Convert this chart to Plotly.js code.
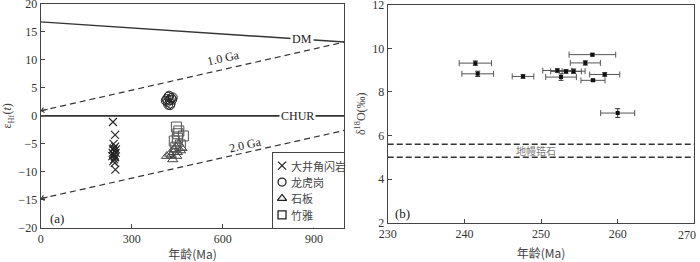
<!DOCTYPE html>
<html>
<head>
<meta charset="utf-8">
<script src="https://cdn.plot.ly/plotly-3.0.1.min.js"></script>
<style>html,body{margin:0;padding:0;background:#fff;}#chart{width:700px;height:262px;}</style>
</head>
<body>
<div id="chart"></div>
<script>
// ---------- Panel (a): εHf(t) vs age ----------
const refX = [0, 1000];
const dmY = [16.8, 13.2];
const chur = [0, 0];
const ga1Y = [0.9, 13.2];
const ga2Y = [-14.8, -2.6];

const dajingX = [238, 245, 240, 245, 238, 243, 247, 240, 236, 245, 242, 248, 239, 244, 246, 241, 243, 237];
const dajingY = [-1.1, -3.4, -5.0, -5.5, -6.0, -6.3, -6.6, -6.9, -7.2, -7.4, -7.8, -6.0, -8.1, -8.4, -9.6, -5.8, -7.0, -6.6];

const longhuX = [415, 420, 425, 430, 418, 428, 423, 433, 420, 435, 412, 426];
const longhuY = [3.0, 3.4, 2.8, 3.2, 2.5, 2.2, 3.6, 2.9, 2.0, 3.3, 2.7, 1.9];

const shibanX = [415, 425, 435, 440, 445, 450, 455, 460, 465, 430, 448, 438];
const shibanY = [-7.2, -6.8, -7.8, -6.0, -5.5, -6.5, -5.0, -6.2, -5.8, -7.0, -7.2, -6.5];

const zhuyaX = [447, 455, 470, 440, 450, 460, 445, 452];
const zhuyaY = [-2.0, -2.7, -3.6, -4.5, -4.0, -5.2, -5.6, -3.2];

const legendNames = ['大井角闪岩', '龙虎岗', '石板', '竹雅'];
const legendRows = [1, 2, 3, 4];

// ---------- Panel (b): δ18O vs age ----------
const ageB = [241.43, 241.74, 247.65, 256.7, 255.78, 252.13, 253.26, 254.25, 252.61, 258.31, 256.78, 260.0];
const ageErr = [2.1, 2.07, 1.41, 3.04, 1.96, 1.9, 2.0, 1.5, 2.0, 1.96, 1.57, 2.22];
const d18O = [9.32, 8.83, 8.71, 9.71, 9.33, 8.98, 8.94, 8.95, 8.68, 8.8, 8.53, 7.03];
const d18OErr = [0.1, 0.12, 0.08, 0.06, 0.1, 0.08, 0.08, 0.1, 0.15, 0.08, 0.05, 0.2];
const mantleX = [230, 270];
const mantleHi = [5.6, 5.6];
const mantleLo = [5.0, 5.0];
const xTicksB = [230, 240, 250, 260, 270];
const xTickTextB = ['230', '240', '250', '260', '270'];

const serif = '"Liberation Serif", "Times New Roman", "DejaVu Serif", serif';
const cjk = '"Noto Sans CJK SC", "Liberation Serif", serif';
const ink = '#333';
const symCol = '#222';

const traces = [
  {x: refX, y: dmY, mode: 'lines', line: {color: ink, width: 1.4}, xaxis: 'x', yaxis: 'y', showlegend: false, hoverinfo: 'skip'},
  {x: refX, y: chur, mode: 'lines', line: {color: ink, width: 1.6}, xaxis: 'x', yaxis: 'y', showlegend: false, hoverinfo: 'skip'},
  {x: refX, y: ga1Y, mode: 'lines', line: {color: ink, width: 1.2, dash: '6px,4px'}, xaxis: 'x', yaxis: 'y', showlegend: false, hoverinfo: 'skip'},
  {x: refX, y: ga2Y, mode: 'lines', line: {color: ink, width: 1.2, dash: '6px,4px'}, xaxis: 'x', yaxis: 'y', showlegend: false, hoverinfo: 'skip'},
  {x: dajingX, y: dajingY, mode: 'markers', name: legendNames[0], marker: {symbol: 'x-thin-open', size: 8, color: symCol, line: {color: symCol, width: 1.1}}, xaxis: 'x', yaxis: 'y', showlegend: false},
  {x: longhuX, y: longhuY, mode: 'markers', name: legendNames[1], marker: {symbol: 'circle-open', size: 9, color: symCol, line: {color: symCol, width: 1}}, xaxis: 'x', yaxis: 'y', showlegend: false},
  {x: shibanX, y: shibanY, mode: 'markers', name: legendNames[2], marker: {symbol: 'triangle-up-open', size: 9, color: '#444', line: {color: '#444', width: 1}}, xaxis: 'x', yaxis: 'y', showlegend: false},
  {x: zhuyaX, y: zhuyaY, mode: 'markers', name: legendNames[3], marker: {symbol: 'square-open', size: 10, color: '#555', line: {color: '#555', width: 1}}, xaxis: 'x', yaxis: 'y', showlegend: false},
  // legend symbols on a small frameless axis
  {x: [1.3], y: [legendRows[0]], mode: 'markers', marker: {symbol: 'x-thin-open', size: 8, color: symCol, line: {color: symCol, width: 1.3}}, xaxis: 'x3', yaxis: 'y3', showlegend: false, hoverinfo: 'skip'},
  {x: [1.3], y: [legendRows[1]], mode: 'markers', marker: {symbol: 'circle-open', size: 8, color: symCol, line: {color: symCol, width: 1.3}}, xaxis: 'x3', yaxis: 'y3', showlegend: false, hoverinfo: 'skip'},
  {x: [1.3], y: [legendRows[2]], mode: 'markers', marker: {symbol: 'triangle-up-open', size: 8, color: symCol, line: {color: symCol, width: 1.3}}, xaxis: 'x3', yaxis: 'y3', showlegend: false, hoverinfo: 'skip'},
  {x: [1.3], y: [legendRows[3]], mode: 'markers', marker: {symbol: 'square-open', size: 8, color: symCol, line: {color: symCol, width: 1.3}}, xaxis: 'x3', yaxis: 'y3', showlegend: false, hoverinfo: 'skip'},
  // panel b
  {x: mantleX, y: mantleHi, mode: 'lines', line: {color: ink, width: 1.4, dash: '6px,3px'}, xaxis: 'x2', yaxis: 'y2', showlegend: false, hoverinfo: 'skip'},
  {x: mantleX, y: mantleLo, mode: 'lines', line: {color: ink, width: 1.4, dash: '6px,3px'}, xaxis: 'x2', yaxis: 'y2', showlegend: false, hoverinfo: 'skip'},
  {x: ageB, y: d18O, mode: 'markers', marker: {symbol: 'square', size: 4, color: '#111'},
   error_x: {type: 'data', array: ageErr, visible: true, color: '#555', thickness: 1, width: 3},
   error_y: {type: 'data', array: d18OErr, visible: true, color: '#333', thickness: 1, width: 2.5},
   xaxis: 'x2', yaxis: 'y2', showlegend: false}
];

const axBase = {showline: true, mirror: true, linecolor: '#444', linewidth: 1, ticks: 'inside', ticklen: 4, tickcolor: '#444',
  showgrid: false, zeroline: false, ticklabeloverflow: 'allow', tickfont: {family: serif, size: 12, color: '#333'}};

const lastB = xTicksB.length - 1;
const annots = [
  {x: 862, y: dmY[0] + (dmY[1] - dmY[0]) * 0.862 + 0.1, xref: 'x', yref: 'y', text: 'DM', showarrow: false, bgcolor: '#fff', font: {family: serif, size: 12, color: '#222'}},
  {x: 847, y: 0, xref: 'x', yref: 'y', text: 'CHUR', showarrow: false, bgcolor: '#fff', font: {family: serif, size: 12, color: '#222'}},
  {x: 602, y: 10.4, xref: 'x', yref: 'y', text: '1.0 Ga', showarrow: false, textangle: -12.7, font: {family: serif, size: 12, color: '#222'}},
  {x: 673, y: -5.2, xref: 'x', yref: 'y', text: '2.0 Ga', showarrow: false, textangle: -12.6, font: {family: serif, size: 12, color: '#222'}},
  {x: 0, y: ga1Y[0], ax: 28, ay: ga1Y[0] + (ga1Y[1] - ga1Y[0]) * 0.028, xref: 'x', yref: 'y', axref: 'x', ayref: 'y', text: '', showarrow: true, arrowhead: 4, arrowsize: 1, arrowwidth: 1, arrowcolor: ink, standoff: 0},
  {x: 0, y: ga2Y[0], ax: 28, ay: ga2Y[0] + (ga2Y[1] - ga2Y[0]) * 0.028, xref: 'x', yref: 'y', axref: 'x', ayref: 'y', text: '', showarrow: true, arrowhead: 4, arrowsize: 1, arrowwidth: 1, arrowcolor: ink, standoff: 0},
  {x: 23, y: -18.3, xref: 'x', yref: 'y', xanchor: 'left', text: '(a)', showarrow: false, font: {family: serif, size: 13, color: '#222'}},
  {x: 230.7, y: 2.4, xref: 'x2', yref: 'y2', xanchor: 'left', text: '(b)', showarrow: false, font: {family: serif, size: 13, color: '#222'}},
  {x: 249.4, y: 5.3, xref: 'x2', yref: 'y2', text: '地幔锆石', showarrow: false, font: {family: cjk, size: 10, color: '#777'}},
  // last x tick label of panel (b), kept inside the page like the reference
  {x: xTicksB[lastB], y: 0.150, xref: 'x2', yref: 'paper', xanchor: 'right', yanchor: 'top', yshift: -3, xshift: 4,
   text: xTickTextB[lastB], showarrow: false, font: {family: serif, size: 12, color: '#333'}}
];
legendNames.forEach((n, i) => {
  annots.push({x: 2.3, y: legendRows[i], xref: 'x3', yref: 'y3', xanchor: 'left', text: n, showarrow: false, font: {family: cjk, size: 11, color: '#444'}});
});

const layout = {
  width: 700, height: 262,
  margin: {l: 0, r: 0, t: 0, b: 0},
  paper_bgcolor: '#fff', plot_bgcolor: '#fff',
  showlegend: false,
  font: {family: serif, color: '#333'},
  xaxis: Object.assign({}, axBase, {domain: [0.0581, 0.4919], range: [0, 1000], tickvals: [0, 300, 600, 900], anchor: 'y',
    title: {text: '年龄(Ma)', font: {family: cjk, size: 12, color: '#444'}, standoff: 9}}),
  yaxis: Object.assign({}, axBase, {domain: [0.1309, 0.9847], range: [-20, 20], dtick: 5, anchor: 'x',
    title: {text: 'ε<sub>Hf</sub>(<i>t</i>)', font: {family: serif, size: 12, color: '#444'}, standoff: 4}}),
  xaxis2: Object.assign({}, axBase, {domain: [0.5539, 0.9919], range: [230, 270], anchor: 'y2',
    tickvals: xTicksB, ticktext: xTickTextB.map((t, i) => i === lastB ? '' : t),
    title: {text: '年龄(Ma)', font: {family: cjk, size: 12, color: '#444'}, standoff: 9}}),
  yaxis2: Object.assign({}, axBase, {domain: [0.150, 0.982], range: [2, 12], dtick: 2, anchor: 'x2',
    title: {text: 'δ<sup>18</sup>O(‰)', font: {family: serif, size: 12, color: '#444'}, standoff: 4}}),
  xaxis3: {domain: [0.3896, 0.4919], range: [0, 10], anchor: 'y3', showline: true, mirror: true, linecolor: '#444', linewidth: 1,
    showticklabels: false, ticks: '', showgrid: false, zeroline: false, fixedrange: true},
  yaxis3: {domain: [0.1309, 0.4149], range: [4.78, 0.25], anchor: 'x3', showline: true, mirror: true, linecolor: '#444', linewidth: 1,
    showticklabels: false, ticks: '', showgrid: false, zeroline: false, fixedrange: true},
  annotations: annots
};

Plotly.newPlot('chart', traces, layout, {displayModeBar: false, staticPlot: true});
</script>
</body>
</html>
